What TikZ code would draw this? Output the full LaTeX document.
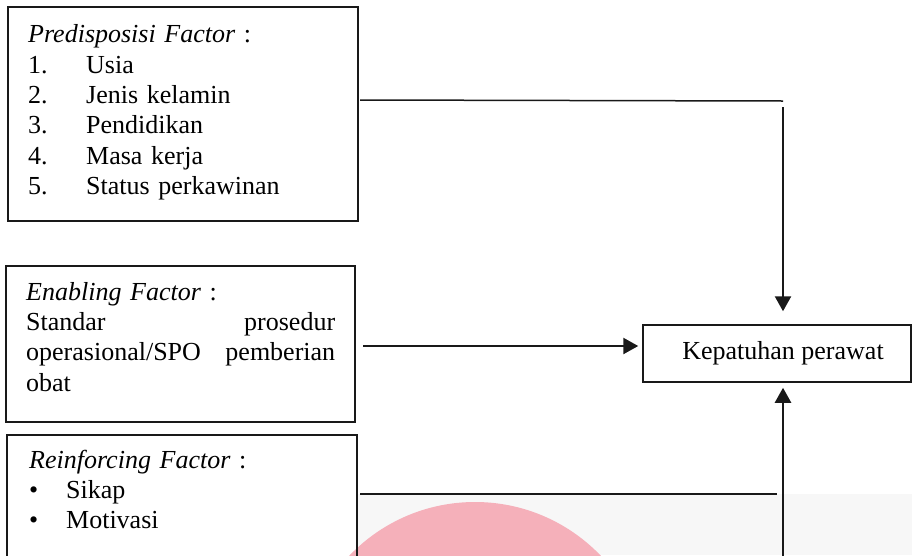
\documentclass[tikz,border=0pt]{standalone}
\usepackage{fontspec}
\setmainfont{Liberation Serif}
\usepackage{xcolor}
\usetikzlibrary{arrows.meta}
\usetikzlibrary{calc}
\definecolor{wmgray}{RGB}{247,247,247}
\definecolor{wmpink}{RGB}{245,176,186}
\colorlet{ink}{black!90}
\tikzstyle{box}=[draw=ink,line width=1.5pt,rectangle,inner sep=0pt]
\tikzstyle{txt}=[inner sep=0pt,anchor=north west,align=left]
\tikzstyle{link}=[draw=ink,line width=1.5pt]
\tikzstyle{arw}=[link,line width=2.4pt,-{Triangle[length=15pt,width=16pt]}]
\newcommand\bigfont{\fontsize{26}{30.3}\selectfont}
\newcommand\itm[1]{\makebox[58pt][l]{#1}}
\newcommand\blt{\makebox[37pt][l]{\textbullet}}
\begin{document}
\begin{tikzpicture}[x=1pt,y=-1pt,font=\bigfont]
	\useasboundingbox (0,0) rectangle (912,555);
	\clip (0,0) rectangle (912,555);
	% watermark in the corner
	\fill[wmgray] (358,494) rectangle (912,555);
	\fill[wmpink] (475,676) circle (174pt);
	\node[box,minimum width=350pt,minimum height=214pt] (pred) at (183,114) {};
	\node[box,minimum width=349pt,minimum height=156pt] (enab) at (180.5,344) {};
	\node[box,minimum width=350pt,minimum height=165pt] (rein) at (182,517.5) {};
	\node[box,minimum width=268pt,minimum height=57pt] (kep) at (777,353.5) {\hspace*{12pt}Kepatuhan perawat};
	\node[txt,text width=320pt] (predt) at (28,21.5) {\strut\textit{Predisposisi Factor} :\\
		\itm{1.}Usia\\ \itm{2.}Jenis kelamin\\ \itm{3.}Pendidikan\\ \itm{4.}Masa kerja\\ \itm{5.}Status perkawinan};
	\node[txt,text width=309pt] (enabt) at (26,278.8) {\strut\textit{Enabling Factor} :\\
		Standar\hfill prosedur\\ operasional/SPO\hfill pemberian\\ obat};
	\node[txt,text width=320pt] (reint) at (29,446.8) {\strut\textit{Reinforcing Factor} :\\
		\blt Sikap\\ \blt Motivasi};
	\coordinate (p1) at (360,100);
	\coordinate (p2) at (783,101);
	\coordinate (p3) at (783,107);
	\coordinate (e1) at (363,346);
	\coordinate (r1) at (360,494);
	\coordinate (r2) at (777,494);
	\coordinate (r3) at (783,560);
	\draw[link] (p1) -- (p2);
	\draw[arw,shorten >=13pt] (p3) -- (p3 |- kep.north);
	\draw[arw,shorten >=4pt] (e1) -- (e1 -| kep.west);
	\draw[link] (r1) -- (r2);
	\draw[arw,shorten >=5pt] (r3) -- (r3 |- kep.south);
\end{tikzpicture}
\end{document}
